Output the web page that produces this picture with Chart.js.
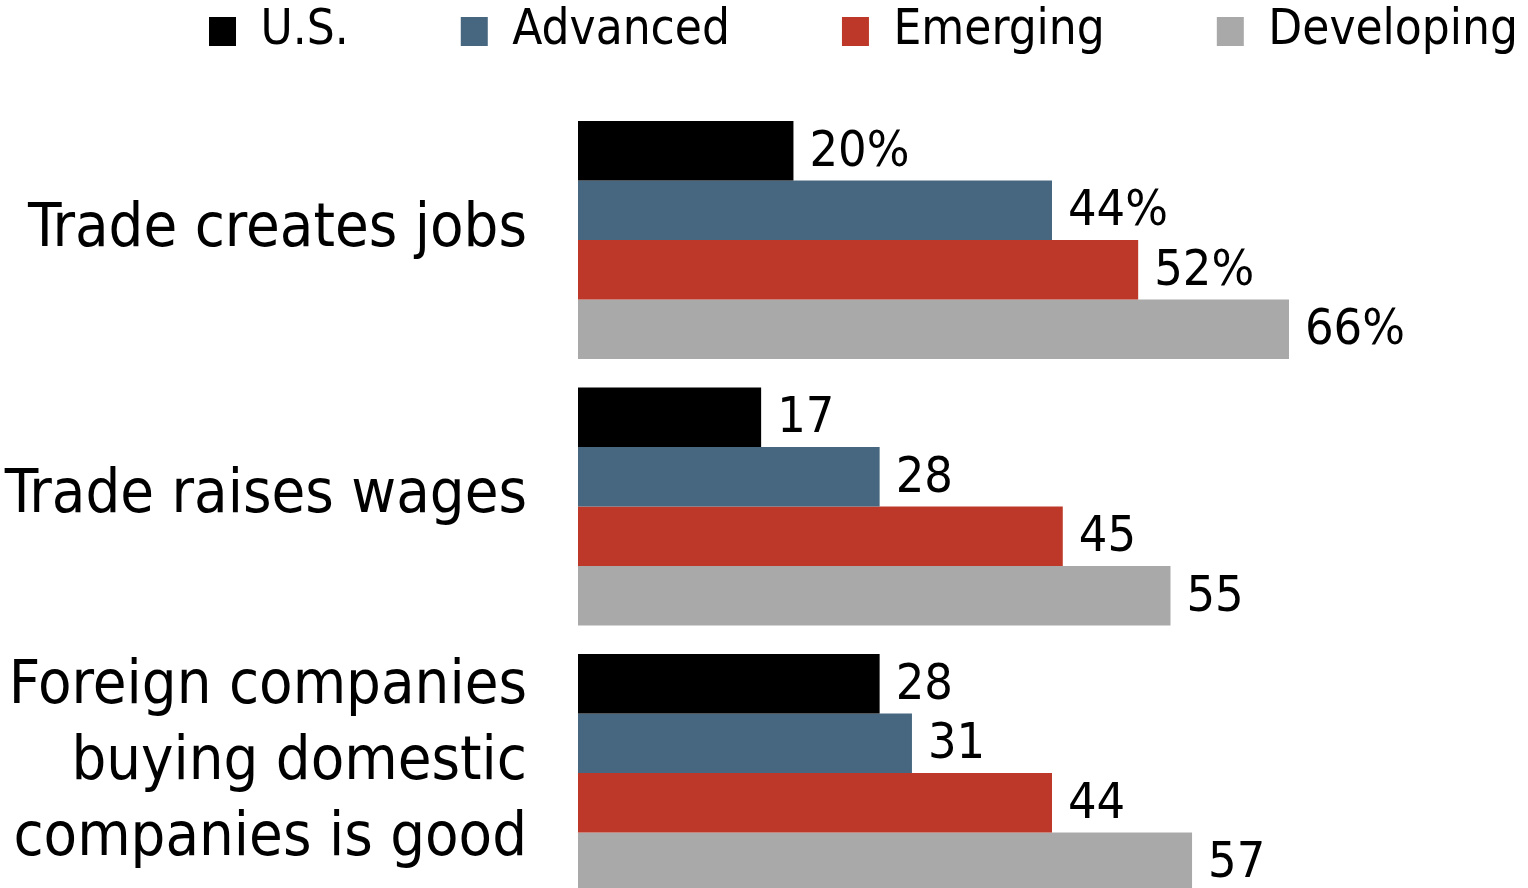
<!DOCTYPE html>
<html>
<head>
<meta charset="utf-8">
<script src="https://cdn.jsdelivr.net/npm/chart.js@4/dist/chart.umd.min.js"></script>
<style>
  html, body { margin: 0; padding: 0; background: #fff; overflow: hidden; }
</style>
</head>
<body>
<canvas id="grafico" width="1528" height="920"></canvas>
<script>
// Categorias e valores (% que dizem que o comércio/investimento é bom)
const categorias = [
    'Trade creates jobs',
    'Trade raises wages',
    ['Foreign companies', 'buying domestic', 'companies is good']
];
const series = ['U.S.', 'Advanced', 'Emerging', 'Developing'];
const valoresUS = [20, 17, 28];
const valoresAdvanced = [44, 28, 31];
const valoresEmerging = [52, 45, 44];
const valoresDeveloping = [66, 55, 57];

const cores = ['#000000', '#46677f', '#bd3828', '#a9a9a9'];
const fonte = '"Liberation Sans Narrow", "DejaVu Sans Condensed", Roboto, sans-serif';

// Espaçamento entre itens da legenda (o Chart.js usa o mesmo valor em cima)
const espacoItens = 112;

// Legenda numa só linha, com altura fixa e itens puxados para cima
const ajusteLegenda = {
    id: 'ajusteLegenda',
    beforeInit(chart) {
        const legenda = chart.legend;
        const fitOriginal = legenda.fit;
        legenda.fit = function () {
            const larguraMax = this.maxWidth;
            this.maxWidth = 5000;  // evita quebra de linha
            fitOriginal.call(this);
            this.maxWidth = larguraMax;
            this.width = larguraMax;
            this.height = 106.75;
        };
        const desenharOriginal = legenda._draw;
        legenda._draw = function () {
            const c = this.ctx;
            c.save();
            c.translate(espacoItens - 8, 7 - espacoItens);
            desenharOriginal.apply(this, arguments);
            c.restore();
        };
    }
};

// Escreve o valor no fim de cada barra
const rotulosValores = {
    id: 'rotulosValores',
    afterDatasetsDraw(chart) {
        const ctx = chart.ctx;
        ctx.save();
        ctx.font = '50px ' + fonte;
        ctx.fillStyle = '#000';
        ctx.textAlign = 'left';
        ctx.textBaseline = 'middle';
        chart.data.datasets.forEach((ds, i) => {
            chart.getDatasetMeta(i).data.forEach((barra, j) => {
                const texto = ds.data[j] + (j === 0 ? '%' : '');
                ctx.fillText(texto, barra.x + 16, barra.y + 2);
            });
        });
        ctx.restore();
    }
};

const ctx = document.getElementById('grafico').getContext('2d');
const grafico = new Chart(ctx, {
    type: 'bar',
    data: {
        labels: categorias,
        datasets: [
            { label: series[0], data: valoresUS, backgroundColor: cores[0] },
            { label: series[1], data: valoresAdvanced, backgroundColor: cores[1] },
            { label: series[2], data: valoresEmerging, backgroundColor: cores[2] },
            { label: series[3], data: valoresDeveloping, backgroundColor: cores[3] }
        ]
    },
    options: {
        indexAxis: 'y',
        responsive: false,
        animation: false,
        devicePixelRatio: 1,
        layout: { padding: { left: 0, right: 2, top: 0, bottom: 13.75 } },
        datasets: {
            bar: { barPercentage: 1.0, categoryPercentage: 0.893 }
        },
        scales: {
            x: { display: false, min: 0, max: 88 },
            y: {
                grid: { display: false },
                border: { display: false },
                ticks: {
                    color: '#000',
                    padding: 43,
                    labelOffset: -10,
                    font: { family: fonte, size: 61, lineHeight: 1.25 }
                },
                afterFit(scale) {
                    scale.width = 578;
                    // sem margem extra para os rótulos de várias linhas
                    scale.paddingTop = 0;
                    scale.paddingBottom = 0;
                }
            }
        },
        plugins: {
            tooltip: { enabled: false },
            legend: {
                position: 'top',
                align: 'end',
                labels: {
                    color: '#000',
                    boxWidth: 27,
                    boxHeight: 29,
                    padding: espacoItens,
                    font: { family: fonte, size: 49 }
                }
            }
        }
    },
    plugins: [ajusteLegenda, rotulosValores]
});
</script>
</body>
</html>
